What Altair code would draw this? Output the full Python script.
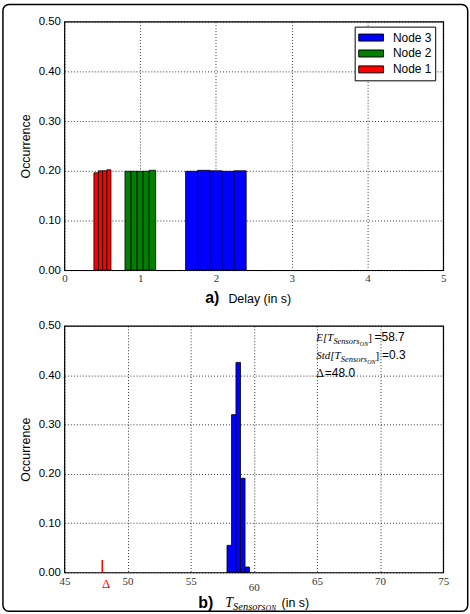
import altair as alt
import pandas as pd

# ---------------- data ----------------
node_names = ["Node 3", "Node 2", "Node 1"]
node_colors = ["#0000ff", "#008000", "#ff0000"]

node1_edges = [0.39, 0.45, 0.505, 0.56, 0.615]
node1_vals = [0.196, 0.200, 0.200, 0.202]
node2_edges = [0.80, 0.88, 0.96, 1.04, 1.12, 1.205]
node2_vals = [0.199, 0.199, 0.199, 0.199, 0.201]
node3_edges = [1.60, 1.76, 1.92, 2.08, 2.24, 2.40]
node3_vals = [0.199, 0.201, 0.200, 0.199, 0.200]

ton_edges = [57.88, 58.24, 58.59, 58.95, 59.31, 59.66]
ton_vals = [0.055, 0.320, 0.426, 0.191, 0.011]
delta_value = 48.0
delta_tick_height = 0.025
mean_ton = 58.7
std_ton = 0.3

top_x_ticks = [0, 1, 2, 3, 4, 5]
bottom_x_ticks = [45, 50, 55, 60, 65, 70, 75]
y_ticks = [0.0, 0.1, 0.2, 0.3, 0.4, 0.5]

# ---------------- tables ----------------
rows = []
for name, edges, vals in [("Node 1", node1_edges, node1_vals),
                          ("Node 2", node2_edges, node2_vals),
                          ("Node 3", node3_edges, node3_vals)]:
    for i, v in enumerate(vals):
        rows.append({"node": name, "x0": edges[i], "x1": edges[i + 1], "occ": v})
top_df = pd.DataFrame(rows)
bot_df = pd.DataFrame({"x0": ton_edges[:-1], "x1": ton_edges[1:], "occ": ton_vals})
delta_df = pd.DataFrame({"x": [delta_value], "y0": [0.0], "y1": [delta_tick_height]})
one = pd.DataFrame({"k": [0]})

# ---------------- style ----------------
W = 381
H1 = 250
H2 = 248
SANS = "Liberation Sans"
SERIF = "Liberation Serif"
GRID = dict(grid=True, gridColor="black", gridDash=[1, 2], gridWidth=0.8,
            gridOpacity=1, domain=False, ticks=False, labelFlush=False,
            labelOverlap=False)


def y_axis():
    return alt.Axis(values=y_ticks, format=".2f", title="Occurrence",
                    labelFont=SANS, labelFontSize=11.5, labelColor="black",
                    labelPadding=4, titleFont=SANS, titleFontSize=12.5,
                    titleFontWeight="normal", titleColor="black",
                    titlePadding=6, **GRID)


def txt(s, x, y, size, font, style="normal", weight="normal", color="black"):
    return alt.Chart(one).mark_text(
        text=s, align="left", baseline="alphabetic", font=font,
        fontSize=size, fontStyle=style, fontWeight=weight, color=color
    ).encode(x=alt.value(x), y=alt.value(y))


# ---------------- top panel ----------------
bars_top = alt.Chart(top_df).mark_bar(stroke="black", strokeWidth=0.8).encode(
    x=alt.X("x0:Q", scale=alt.Scale(domain=[0, 5], nice=False, zero=False),
            axis=alt.Axis(values=top_x_ticks, format="d", title=None,
                          labelFont=SERIF, labelFontSize=11, labelColor="#333333",
                          labelPadding=2.5, **GRID)),
    x2="x1:Q",
    y=alt.Y("occ:Q", scale=alt.Scale(domain=[0, 0.5], nice=False), axis=y_axis()),
    y2=alt.datum(0),
    color=alt.Color("node:N",
                    scale=alt.Scale(domain=node_names, range=node_colors),
                    legend=alt.Legend(title=None, orient="none", legendX=292,
                                      legendY=5,
                                      fillColor="white", strokeColor="black",
                                      padding=3.5, cornerRadius=0,
                                      symbolType="M-1,-0.28L1,-0.28L1,0.28L-1,0.28Z",
                                      symbolSize=625, symbolStrokeColor="black",
                                      symbolStrokeWidth=1, labelFont=SANS,
                                      labelFontSize=12, labelColor="black",
                                      labelOffset=9, clipHeight=15, rowPadding=1)),
)

frame = alt.Chart(one).mark_rect(filled=False, stroke="black", strokeWidth=1.5,
                                 cornerRadius=6).encode(
    x=alt.value(-61.8), x2=alt.value(405.7), y=alt.value(-17.3), y2=alt.value(593)
)

top = alt.layer(
    bars_top,
    txt("a)", 141.7, 283, 16, SANS, weight="bold"),
    txt("Delay (in s)", 165, 283, 12.5, SANS),
    frame,
).properties(width=W, height=H1)

# ---------------- bottom panel ----------------
bars_bot = alt.Chart(bot_df).mark_bar(color="#0000ff", stroke="black",
                                      strokeWidth=0.8).encode(
    x=alt.X("x0:Q", scale=alt.Scale(domain=[45, 75], nice=False, zero=False),
            axis=alt.Axis(values=bottom_x_ticks, format="d", title=None,
                          labelFont=SERIF, labelFontSize=11, labelColor="#333333",
                          labelPadding={"condition": {"test": "datum.value == 60",
                                                      "value": 9},
                                        "value": 3.5},
                          **GRID)),
    x2="x1:Q",
    y=alt.Y("occ:Q", scale=alt.Scale(domain=[0, 0.5], nice=False), axis=y_axis()),
    y2=alt.datum(0),
)

delta_rule = alt.Chart(delta_df).mark_rule(color="#ff0000", strokeWidth=1.5).encode(
    x="x:Q", y="y0:Q", y2="y1:Q"
)
delta_lbl = alt.Chart(delta_df).mark_text(
    text="Δ", font=SERIF, fontSize=13, color="#ff0000", align="center",
    baseline="alphabetic", dx=4
).encode(x="x:Q", y=alt.value(H2 + 16))

bottom = alt.layer(
    bars_bot,
    delta_rule,
    delta_lbl,
    # annotation line 1
    txt("E[T", 253.4, 15, 11, SERIF, style="italic"),
    txt("Sensors", 270.6, 18, 8.5, SERIF, style="italic"),
    txt("ON", 297.2, 20, 6, SERIF, style="italic"),
    txt("]", 305.6, 15, 11, SERIF),
    txt(f"={mean_ton:.1f}", 312, 15, 12, SANS),
    # annotation line 2
    txt("Std[T", 253.4, 33, 11, SERIF, style="italic"),
    txt("Sensors", 278, 36, 8.5, SERIF, style="italic"),
    txt("ON", 304.6, 38, 6, SERIF, style="italic"),
    txt("]", 313, 33, 11, SERIF),
    txt(f"={std_ton:.1f}", 319.5, 33, 12, SANS),
    # annotation line 3
    txt("Δ", 253.4, 51, 12, SERIF),
    txt(f"={delta_value:.1f}", 262, 51, 12, SANS),
    # panel title
    txt("b)", 134.7, 283.5, 16, SANS, weight="bold"),
    txt("T", 161.7, 282.5, 14, SERIF, style="italic"),
    txt("Sensors", 169.7, 285.5, 10.5, SERIF, style="italic"),
    txt("ON", 202.6, 286.5, 7.5, SERIF, style="italic"),
    txt("(in s)", 218.4, 283, 12.5, SANS),
).properties(width=W, height=H2)

chart = alt.vconcat(top, bottom, spacing=56, bounds="flush").properties(
    padding={"left": 0.75, "top": 1, "right": 0, "bottom": 0},
    background="white",
).configure_view(stroke="black", strokeWidth=1.2)

chart.save("out.html", embed_options={"renderer": "svg", "actions": False})
